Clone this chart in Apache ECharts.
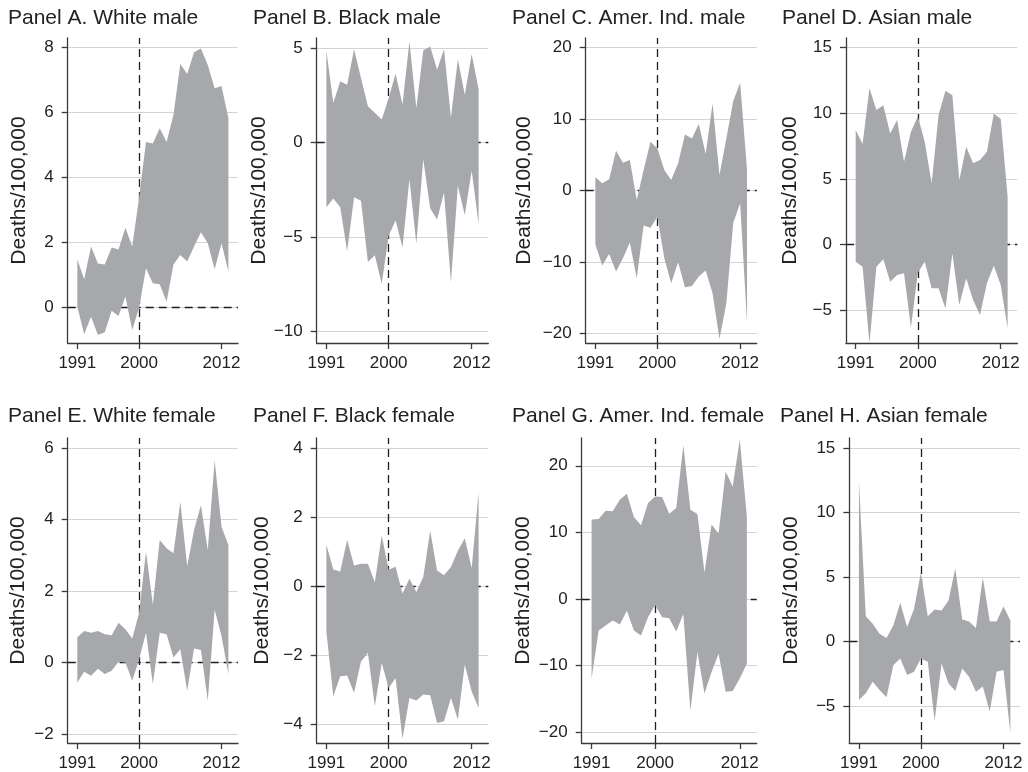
<!DOCTYPE html>
<html><head><meta charset="utf-8">
<script src="https://cdn.jsdelivr.net/npm/echarts@6/dist/echarts.min.js"></script>
<style>html,body{margin:0;padding:0;background:#fff}#c{width:1028px;height:772px}</style>
</head><body><div id="c"></div>
<script>
const years = [1991,1992,1993,1994,1995,1996,1997,1998,1999,2000,2001,2002,2003,2004,2005,2006,2007,2008,2009,2010,2011,2012,2013];
const xTicks = [1991, 2000, 2012];
const refYear = 2000;
const titles = ['Panel A. White male','Panel B. Black male','Panel C. Amer. Ind. male','Panel D. Asian male',
                'Panel E. White female','Panel F. Black female','Panel G. Amer. Ind. female','Panel H. Asian female'];
const yName = 'Deaths/100,000';

const aUpper = [1.49,0.87,1.88,1.36,1.33,1.85,1.79,2.46,1.88,3.4,5.1,5.05,5.52,5.1,5.93,7.5,7.19,7.86,7.98,7.47,6.75,6.82,5.83];
const aLower = [0.03,-0.82,-0.28,-0.84,-0.76,-0.1,-0.26,0.34,-0.69,0.0,1.21,0.75,0.72,0.18,1.33,1.62,1.42,1.88,2.32,1.98,1.18,1.98,1.11];
const bUpper = [4.86,2.1,3.25,3.07,4.95,3.42,1.93,1.58,1.23,2.37,3.65,2.02,5.35,1.84,4.88,5.09,3.86,4.95,1.32,4.42,2.54,4.68,2.84];
const bLower = [-3.42,-2.95,-3.42,-5.75,-2.89,-3.07,-6.32,-5.96,-7.46,-4.91,-4.12,-5.53,-1.93,-5.35,-0.88,-3.47,-4.07,-2.63,-7.4,-2.28,-3.82,-1.49,-4.3];
const cUpper = [1.84,1.0,1.56,5.58,3.9,4.27,-1.33,2.87,6.84,5.9,2.87,1.47,3.8,7.86,7.3,9.31,5.11,12.2,2.17,7.3,12.53,15.1,2.87];
const cLower = [-7.54,-10.5,-8.89,-11.36,-9.5,-7.3,-12.3,-4.9,-5.2,-3.66,-9.5,-13.0,-10.05,-13.55,-13.37,-12.06,-11.2,-14.4,-20.8,-15.8,-4.5,-1.8,-18.6];
const dUpper = [8.72,7.65,11.9,10.24,10.62,8.46,9.48,6.3,8.59,9.78,7.83,4.65,9.86,11.72,11.38,4.9,7.45,6.18,6.43,7.06,9.99,9.56,3.63];
const dLower = [-1.32,-1.7,-7.55,-1.7,-1.14,-2.85,-2.34,-2.21,-6.33,-2.16,-1.32,-3.35,-3.35,-4.88,-0.69,-4.63,-2.59,-4.24,-5.39,-2.97,-1.63,-3.1,-6.4];
const eUpper = [0.71,0.88,0.83,0.88,0.79,0.76,1.11,0.93,0.67,1.39,3.1,1.62,3.43,3.2,3.06,4.49,2.69,3.71,4.4,3.15,5.65,3.8,3.29];
const eLower = [-0.56,-0.26,-0.37,-0.17,-0.32,-0.23,0.02,0.0,-0.51,0.09,0.83,-0.6,0.83,0.79,0.14,0.37,-0.79,0.39,0.35,-1.07,1.48,0.74,-0.32];
const fUpper = [1.2,0.49,0.43,1.34,0.6,0.65,0.65,0.12,1.47,0.48,0.57,-0.21,0.22,-0.16,0.27,1.61,0.46,0.32,0.56,1.03,1.39,0.53,2.73];
const fLower = [-1.31,-3.18,-2.6,-2.58,-3.08,-2.17,-1.93,-3.47,-2.22,-2.94,-2.65,-4.41,-3.23,-3.3,-3.13,-3.15,-3.95,-3.9,-3.23,-3.85,-2.27,-3.04,-3.52];
const gUpper = [11.93,12.02,13.27,13.17,14.9,15.8,12.32,11.08,14.41,15.4,15.3,12.82,13.66,23.1,13.42,12.77,3.98,11.18,9.84,19.13,16.9,23.95,12.42];
const gLower = [-11.93,-4.72,-3.98,-3.23,-3.83,-1.74,-4.72,-5.47,-2.73,-0.89,-2.73,-2.88,-4.87,-2.24,-16.8,-7.95,-14.16,-10.93,-8.2,-13.91,-13.81,-11.93,-9.69];
const hUpper = [12.43,1.97,1.38,0.6,0.27,1.25,3.0,1.12,2.53,5.36,1.97,2.48,2.4,3.17,5.67,1.71,1.56,1.04,4.97,1.58,1.56,2.71,1.63];
const hLower = [-4.54,-4.02,-3.12,-3.77,-4.33,-1.84,-1.32,-2.61,-2.35,-1.32,-1.58,-6.16,-1.71,-3.25,-3.84,-2.1,-2.74,-3.9,-3.5,-5.44,-2.35,-2.22,-7.11];

const yTicksA = [0,2,4,6,8];
const yTicksB = [-10,-5,0,5];
const yTicksC = [-20,-10,0,10,20];
const yTicksD = [-5,0,5,10,15];
const yTicksE = [-2,0,2,4,6];
const yTicksF = [-4,-2,0,2,4];
const yTicksG = [-20,-10,0,10,20];
const yTicksH = [-5,0,5,10,15];

const uppers = [aUpper,bUpper,cUpper,dUpper,eUpper,fUpper,gUpper,hUpper];
const lowers = [aLower,bLower,cLower,dLower,eLower,fLower,gLower,hLower];
const yTicks = [yTicksA,yTicksB,yTicksC,yTicksD,yTicksE,yTicksF,yTicksG,yTicksH];

// layout (pixels) and axis extents
const layout = [
  {g:[67.7,38,170.3,305], ymin:-1.09, ymax:8.3,  tl:8,   tt:8,   gap:38},
  {g:[316.7,38,171.6,305], ymin:-10.6, ymax:5.54, tl:253, tt:8,  gap:43},
  {g:[585.7,38,171,305],  ymin:-21.36, ymax:21.36, tl:512, tt:8, gap:51},
  {g:[846,38,171.3,305],  ymin:-7.52, ymax:15.74, tl:782, tt:8,  gap:45},
  {g:[67.7,438,170.3,307], ymin:-2.25, ymax:6.28, tl:8,  tt:406, gap:39},
  {g:[316.7,438,171.6,307], ymin:-4.53, ymax:4.29, tl:253, tt:406, gap:44},
  {g:[581.7,438,175,307], ymin:-21.6, ymax:24.17, tl:512, tt:406, gap:48},
  {g:[849.3,438,170.7,307], ymin:-7.88, ymax:15.8, tl:780, tt:406, gap:48}
];

const FONT = '"Liberation Sans", Arial, Helvetica, sans-serif';
const TXT = '#222';
const AX = '#3a3a3a';
const BAND = '#a7a8ab';
const fmtY = v => v < 0 ? '\u2212' + Math.abs(v) : String(v);
const fmtX = v => String(v);

const option = {animation:false, backgroundColor:'#fff', title:[], grid:[], xAxis:[], yAxis:[], series:[]};

layout.forEach((L, i) => {
  option.title.push({text: titles[i], left: L.tl, top: L.tt, padding:0,
    textStyle:{fontFamily:FONT, fontSize:21, fontWeight:'normal', color:TXT}});
  option.grid.push({left:L.g[0], top:L.g[1], width:L.g[2], height:L.g[3], containLabel:false});
  option.xAxis.push({type:'value', gridIndex:i, min:1989.6, max:2014.4,
    axisLine:{show:true, onZero:false, lineStyle:{color:AX, width:1.3}},
    axisTick:{show:true, length:6, customValues:xTicks, lineStyle:{color:AX, width:1.3}},
    axisLabel:{customValues:xTicks, formatter:fmtX, fontFamily:FONT, fontSize:17, color:TXT, margin:12},
    splitLine:{show:false}});
  option.yAxis.push({type:'value', gridIndex:i, min:L.ymin, max:L.ymax,
    name:yName, nameLocation:'middle', nameRotate:90, nameGap:L.gap,
    nameTextStyle:{fontFamily:FONT, fontSize:21, color:TXT},
    axisLine:{show:true, onZero:false, lineStyle:{color:AX, width:1.3}},
    axisTick:{show:true, length:6, customValues:yTicks[i], lineStyle:{color:AX, width:1.3}},
    axisLabel:{customValues:yTicks[i], formatter:fmtY, fontFamily:FONT, fontSize:17, color:TXT, margin:14},
    splitLine:{show:true, lineStyle:{color:'#d4d4d4', width:1.2}}});
  const lo = lowers[i], up = uppers[i];
  // invisible carrier for the reference lines (drawn beneath the band)
  option.series.push({type:'line', xAxisIndex:i, yAxisIndex:i,
    symbol:'none', silent:true, z:1, lineStyle:{opacity:0},
    data: years.map((y,k)=>[y, lo[k]]),
    markLine:{z:1, silent:true, symbol:'none', label:{show:false}, animation:false,
      lineStyle:{color:'#1e1e1e', type:[8,5], width:1.3},
      data:[{xAxis:refYear},{yAxis:0}]}});
  // confidence band: polygon through upper points then lower points
  option.series.push({type:'custom', xAxisIndex:i, yAxisIndex:i, z:8, silent:true, clip:true,
    data: years.map((y,k)=>[y, lo[k], up[k]]),
    encode:{x:0, y:[1,2]},
    renderItem: (params, api) => {
      if (params.dataIndex !== 0) return null;
      const pts = [];
      for (let k = 0; k < years.length; k++) pts.push(api.coord([years[k], up[k]]));
      for (let k = years.length - 1; k >= 0; k--) pts.push(api.coord([years[k], lo[k]]));
      return {type:'polygon', shape:{points:pts}, style:{fill:BAND, stroke:null}};
    }});
});

const chart = echarts.init(document.getElementById('c'), null, {renderer:'canvas'});
chart.setOption(option);
</script>
</body></html>
